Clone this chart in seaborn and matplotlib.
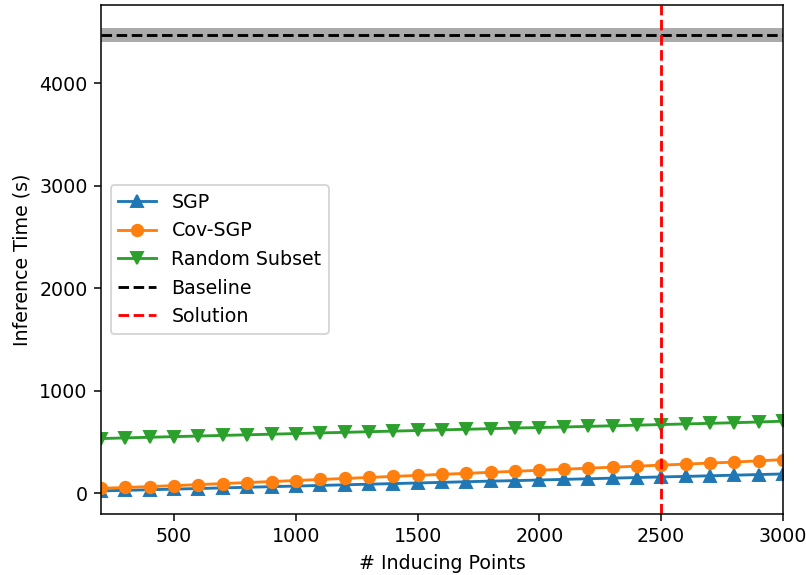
import numpy as np
import pandas as pd
import matplotlib
matplotlib.use("Agg")
import matplotlib.pyplot as plt
import seaborn as sns

inducing_points = list(range(200, 3001, 100))
sgp = [25, 30, 36, 42, 48, 54, 60, 66, 72, 78, 84, 90, 96, 102, 108, 114, 120, 125, 131,
       137, 143, 149, 155, 161, 166, 172, 178, 184, 190]
cov_sgp = [50, 58, 67, 76, 86, 96, 106, 116, 126, 136, 146, 156, 166, 176, 186, 196, 206,
           216, 226, 236, 246, 256, 266, 276, 286, 296, 306, 318, 330]
random_subset = [535, 542, 548, 554, 560, 566, 572, 578, 584, 590, 596, 602, 608, 614, 620,
                 626, 632, 638, 643, 648, 654, 660, 666, 672, 678, 684, 690, 697, 705]
baseline_mean = 4470
baseline_std = 70
solution_x = 2500

DPI = 137
fig = plt.figure(figsize=(806 / DPI, 575 / DPI), dpi=DPI)
ax = fig.add_axes([101/806, (575-514)/575, (783-101)/806, (514-5)/575])

series = [("SGP", sgp, "^", "#1f77b4"),
          ("Cov-SGP", cov_sgp, "o", "#ff7f0e"),
          ("Random Subset", random_subset, "v", "#2ca02c")]
for name, vals, mk, col in series:
    df = pd.DataFrame({"x": inducing_points, "y": vals})
    sns.lineplot(data=df, x="x", y="y", marker=mk, markersize=6, markeredgewidth=1,
                 markeredgecolor=col, color=col, label=name, ax=ax)

ax.axhline(baseline_mean, color="black", linestyle="--", label="Baseline")
ax.fill_between(inducing_points, baseline_mean - baseline_std, baseline_mean + baseline_std,
                color="black", alpha=0.33, linewidth=0)
ax.axvline(solution_x, color="red", linestyle="--", label="Solution")

ax.set_xlim(200, 3000)
ax.set_xlabel("# Inducing Points")
ax.set_ylabel("Inference Time (s)")
ax.legend(loc="center left")
fig.savefig("out.png", dpi=DPI)
